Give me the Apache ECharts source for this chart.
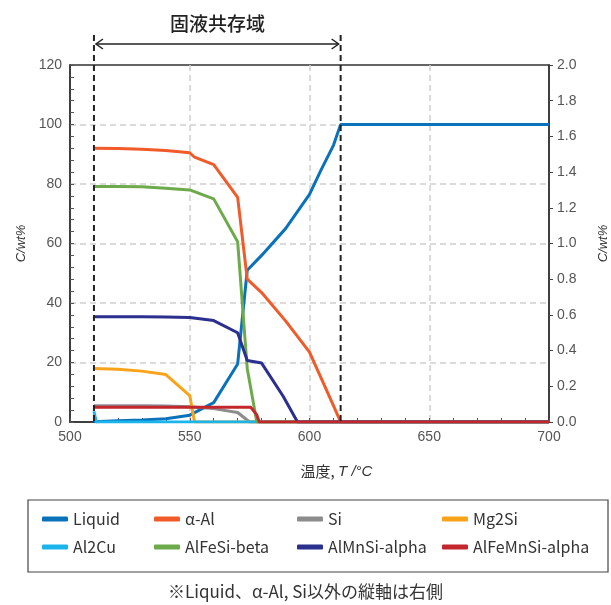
<!DOCTYPE html>
<html><head><meta charset="utf-8">
<script src="https://cdn.jsdelivr.net/npm/echarts@6/dist/echarts.min.js"></script>
<style>html,body{margin:0;padding:0;background:#fff;overflow:hidden}#c{width:611px;height:605px}</style>
</head><body><div id="c"></div>
<script>
// ---- data ----
const xTicks = [500, 550, 600, 650, 700];
const leftTicks = [0, 20, 40, 60, 80, 100, 120];
const rightTicks = [0.0, 0.2, 0.4, 0.6, 0.8, 1.0, 1.2, 1.4, 1.6, 1.8, 2.0];
const seriesNames = ['Liquid', 'α-Al', 'Si', 'Mg2Si', 'Al2Cu', 'AlFeSi-beta', 'AlMnSi-alpha', 'AlFeMnSi-alpha'];
const solidusT = 510;
const liquidusT = 613;
const regionLabel = '固液共存域';
const footnote = '※Liquid、α-Al, Si以外の縦軸は右側';

// left axis (wt%)
const liquid = [[510,0.1],[520,0.4],[530,0.7],[540,1.1],[550,2.3],[560,6.5],[570,19.5],[574,51],[580,56],[590,65],[600,76.5],[605,85],[610,93],[613,100],[700,100]];
const alphaAl = [[510,92],[520,91.9],[530,91.7],[540,91.3],[550,90.5],[552,89],[560,86.5],[570,75.5],[574,48],[580,43.5],[590,34],[600,23.5],[605,14.5],[610,5.5],[613,0],[700,0]];
const si = [[510,5.5],[520,5.5],[530,5.5],[540,5.4],[550,5.1],[560,4.5],[570,3.2],[575,0],[700,0]];
// right axis (wt%)
const mg2si = [[510,0.30],[520,0.295],[530,0.285],[540,0.266],[550,0.148],[552,0],[700,0]];
const al2cu = [[510,0.06],[511,0],[700,0]];
const alfesiBeta = [[510,1.32],[520,1.32],[530,1.318],[540,1.31],[550,1.30],[560,1.25],[570,1.01],[574,0.30],[578,0],[700,0]];
const almnsiAlpha = [[510,0.59],[520,0.59],[530,0.59],[540,0.588],[550,0.585],[560,0.568],[570,0.50],[574,0.345],[580,0.33],[589,0.144],[595,0],[700,0]];
const alfemnsiAlpha = [[510,0.082],[520,0.082],[530,0.082],[540,0.082],[550,0.082],[560,0.082],[570,0.082],[575.5,0.082],[578,0.04],[579,0],[700,0]];

const seriesData = [liquid, alphaAl, si, mg2si, al2cu, alfesiBeta, almnsiAlpha, alfemnsiAlpha];
const seriesAxis = [0, 0, 0, 1, 1, 1, 1, 1];
const colors = ['#0A72BA', '#F15A29', '#8C8C8C', '#F9A31A', '#1BB5EC', '#6DAA4C', '#2B2F8E', '#C4262E'];

const legendPos = [[42,511],[154,511],[297,511],[442,511],[42,539],[154,539],[297,539],[442,539]];

const numFont = '"Liberation Sans", Arial, sans-serif';
const jpFont = '"Noto Sans CJK JP", sans-serif';

const chart = echarts.init(document.getElementById('c'), null, {renderer: 'canvas', width: 611, height: 605});

const option = {
  animation: false,
  backgroundColor: '#fff',
  color: colors,
  title: {
    text: regionLabel, left: 165, top: 9,
    textStyle: {fontFamily: jpFont, fontSize: 19, fontWeight: 500, color: '#222'}
  },
  grid: {left: 70, right: 62, top: 65, bottom: 183, show: true, borderColor: '#333', borderWidth: 1.5,
    containLabel: false, outerBoundsMode: 'none'},
  legend: seriesNames.map((n, i) => ({
    data: [n], left: legendPos[i][0], top: legendPos[i][1],
    icon: 'roundRect', itemWidth: 26, itemHeight: 5, padding: 0,
    textStyle: {fontFamily: jpFont, fontSize: 16, color: '#333'}
  })),
  xAxis: {
    type: 'value', min: xTicks[0], max: xTicks[xTicks.length - 1], interval: 50,
    name: '温度, {i|T /°C}', nameLocation: 'middle', nameGap: 42,
    nameTextStyle: {fontFamily: jpFont, fontSize: 15, color: '#333', padding: [0, 0, 0, 54],
      rich: {i: {fontFamily: numFont, fontStyle: 'italic', fontSize: 15, color: '#333'}}},
    axisLine: {show: true, lineStyle: {color: '#333', width: 1.5}},
    axisTick: {show: true, inside: true, length: 4, lineStyle: {color: '#555'}},
    minorTick: {show: true, splitNumber: 5, length: 4, lineStyle: {color: '#555'}},
    axisLabel: {fontFamily: numFont, fontSize: 14, color: '#555', margin: 8},
    splitLine: {show: true, showMinLine: false, showMaxLine: false, lineStyle: {color: '#cfcfcf', type: [6, 4], width: 1.5}}
  },
  yAxis: [{
    type: 'value', min: leftTicks[0], max: leftTicks[leftTicks.length - 1], interval: 20,
    name: 'C/wt%', nameLocation: 'middle', nameGap: 40, nameRotate: 90,
    nameTextStyle: {fontFamily: numFont, fontStyle: 'italic', fontSize: 13, color: '#333'},
    axisLine: {show: true, lineStyle: {color: '#333', width: 1.5}},
    axisTick: {show: true, inside: true, length: 4, lineStyle: {color: '#555'}},
    minorTick: {show: true, splitNumber: 5, length: 4, lineStyle: {color: '#555'}},
    axisLabel: {fontFamily: numFont, fontSize: 14, color: '#555', margin: 8},
    splitLine: {show: true, showMinLine: false, showMaxLine: false, lineStyle: {color: '#cfcfcf', type: [6, 4], width: 1.5}}
  }, {
    type: 'value', min: rightTicks[0], max: rightTicks[rightTicks.length - 1], interval: 0.2,
    position: 'right',
    name: 'C/wt%', nameLocation: 'middle', nameGap: 48, nameRotate: 90,
    nameTextStyle: {fontFamily: numFont, fontStyle: 'italic', fontSize: 13, color: '#333'},
    axisLine: {show: true, lineStyle: {color: '#333', width: 1.5}},
    axisTick: {show: true, inside: false, length: 4, lineStyle: {color: '#444'}},
    axisLabel: {fontFamily: numFont, fontSize: 14, color: '#555', margin: 8,
      formatter: v => v.toFixed(1)},
    splitLine: {show: false}
  }],
  series: seriesNames.map((n, i) => ({
    name: n, type: 'line', yAxisIndex: seriesAxis[i], data: seriesData[i],
    showSymbol: false, symbol: 'none', smooth: false,
    lineStyle: {width: 3, color: colors[i]}, itemStyle: {color: colors[i]},
    z: 2 + i, clip: true
  }))
};
chart.setOption(option);

const pS = chart.convertToPixel({xAxisIndex: 0, yAxisIndex: 0}, [solidusT, 0]);
const pL = chart.convertToPixel({xAxisIndex: 0, yAxisIndex: 0}, [liquidusT, 0]);
const topY = 35, arrowY = 44;
chart.setOption({
  graphic: [
    {type: 'line', z: 100, shape: {x1: pS[0], y1: topY, x2: pS[0], y2: pS[1]}, style: {stroke: '#222', lineWidth: 2, lineDash: [6, 4]}},
    {type: 'line', z: 100, shape: {x1: pL[0], y1: topY, x2: pL[0], y2: pL[1]}, style: {stroke: '#222', lineWidth: 2, lineDash: [6, 4]}},
    {type: 'line', z: 100, shape: {x1: pS[0] + 2, y1: arrowY, x2: pL[0] - 2, y2: arrowY}, style: {stroke: '#222', lineWidth: 1.5}},
    {type: 'polyline', z: 100, shape: {points: [[pS[0] + 9, arrowY - 5], [pS[0] + 2, arrowY], [pS[0] + 9, arrowY + 5]]}, style: {stroke: '#222', lineWidth: 1.5, fill: null}},
    {type: 'polyline', z: 100, shape: {points: [[pL[0] - 9, arrowY - 5], [pL[0] - 2, arrowY], [pL[0] - 9, arrowY + 5]]}, style: {stroke: '#222', lineWidth: 1.5, fill: null}},
    {type: 'rect', z: 100, shape: {x: 28, y: 500, width: 580, height: 72}, style: {stroke: '#444', lineWidth: 1.2, fill: null}},
    {type: 'text', z: 100, left: 'center', top: 583, style: {text: footnote, fontFamily: jpFont, fontSize: 17, fill: '#333'}}
  ]
});
</script></body></html>
